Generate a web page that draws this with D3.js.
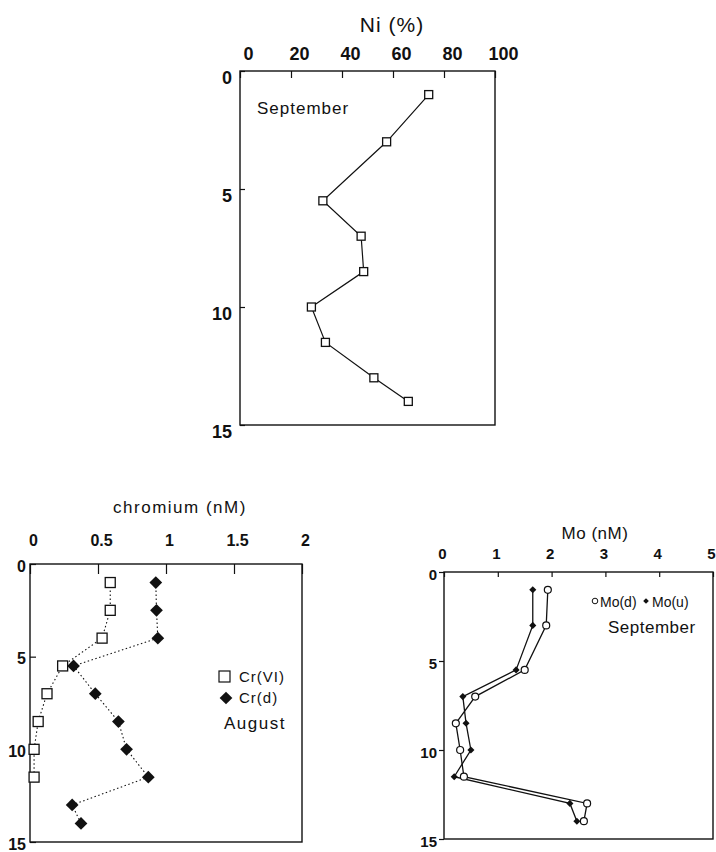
<!DOCTYPE html>
<html>
<head>
<meta charset="utf-8">
<script src="https://cdn.jsdelivr.net/npm/d3@7"></script>
<style>
body { margin: 0; background: #fff; }
text { font-family: "Liberation Sans", Arial, sans-serif; fill: #111; }
</style>
</head>
<body>
<svg id="chart" width="716" height="852"></svg>
<script>
// depth (m) of each sample, per profile
var niDepth = [1, 3, 5.5, 7, 8.5, 10, 11.5, 13, 14];
var niValues = [74, 57.5, 32.5, 47.5, 48.5, 28, 33.5, 52.5, 66];

var crVIDepth = [1, 2.5, 4, 5.5, 7, 8.5, 10, 11.5];
var crVI = [0.59, 0.59, 0.53, 0.24, 0.125, 0.06, 0.03, 0.03];
var crDDepth = [1, 2.5, 4, 5.5, 7, 8.5, 10, 11.5, 13, 14];
var crD = [0.925, 0.93, 0.94, 0.32, 0.48, 0.65, 0.71, 0.87, 0.31, 0.375];

var moDepth = [1, 3, 5.5, 7, 8.5, 10, 11.5, 13, 14];
var moD = [1.93, 1.9, 1.5, 0.58, 0.22, 0.3, 0.37, 2.66, 2.6];
var moU = [1.65, 1.65, 1.34, 0.35, 0.41, 0.5, 0.19, 2.34, 2.47];

var depthTicks = [0, 5, 10, 15];
var niTicks = [0, 20, 40, 60, 80, 100];
var crTicks = [0, 0.5, 1, 1.5, 2];
var crTickLabels = ["0", "0.5", "1", "1.5", "2"];
var moTicks = [0, 1, 2, 3, 4, 5];

var svg = d3.select("#chart");
svg.append("rect").attr("width", 716).attr("height", 852).attr("fill", "#fff");

function pairs(depth, vals) {
    return depth.map((d, i) => ({depth: d, v: vals[i]}));
}

function drawPanel(p) {
    let g = svg.append("g");
    let x = d3.scaleLinear().domain(p.xDomain).range([p.left, p.right]);
    let y = d3.scaleLinear().domain([0, 15]).range([p.top, p.bottom]);

    let xAxis = g.append("g")
        .attr("transform", `translate(0,${p.top})`)
        .call(d3.axisTop(x).tickValues(p.xTicks).tickSizeInner(-p.xTick).tickSizeOuter(0)
            .tickPadding(p.xPad).tickFormat((d, i) => p.xLabels ? p.xLabels[i] : d))
        .attr("font-size", p.tickFont)
        .attr("font-weight", "bold");
    xAxis.select(".domain").remove();
    xAxis.selectAll("line").attr("stroke", "#111").attr("stroke-width", 1.2);
    xAxis.selectAll("text").attr("dx", p.xLabelDx || 0);

    let yAxis = g.append("g")
        .attr("transform", `translate(${p.left},0)`)
        .call(d3.axisLeft(y).tickValues(depthTicks).tickSizeInner(p.yTick).tickSizeOuter(0)
            .tickPadding(p.yPad))
        .attr("font-size", p.tickFont)
        .attr("font-weight", "bold");
    yAxis.select(".domain").remove();
    yAxis.selectAll("line").attr("stroke", "#111").attr("stroke-width", 1.2);
    yAxis.selectAll("text").attr("y", p.yLabelDy || 0);

    g.append("rect")
        .attr("x", p.left).attr("y", p.top)
        .attr("width", p.right - p.left).attr("height", p.bottom - p.top)
        .attr("fill", "none").attr("stroke", "#111").attr("stroke-width", 1.4);

    g.append("text")
        .attr("x", p.titleX).attr("y", p.titleY)
        .attr("text-anchor", "middle")
        .attr("font-size", p.titleFont)
        .attr("letter-spacing", p.titleSpacing || 0)
        .text(p.title);

    return {g: g, x: x, y: y};
}

function drawLine(pan, data, dash, width) {
    let line = d3.line().x(d => pan.x(d.v)).y(d => pan.y(d.depth));
    pan.g.append("path")
        .datum(data)
        .attr("d", line)
        .attr("fill", "none")
        .attr("stroke", "#111")
        .attr("stroke-width", width)
        .attr("stroke-dasharray", dash);
}

function drawSquares(pan, data, size) {
    pan.g.selectAll(null)
        .data(data)
        .enter().append("rect")
        .attr("x", d => pan.x(d.v) - size / 2)
        .attr("y", d => pan.y(d.depth) - size / 2)
        .attr("width", size).attr("height", size)
        .attr("fill", "#fff").attr("stroke", "#111").attr("stroke-width", 1.3);
}

function drawDiamonds(pan, data, size) {
    let sym = d3.symbol(d3.symbolSquare, size * size);
    pan.g.selectAll(null)
        .data(data)
        .enter().append("path")
        .attr("d", sym)
        .attr("transform", d => `translate(${pan.x(d.v)},${pan.y(d.depth)}) rotate(45)`)
        .attr("fill", "#111");
}

function drawCircles(pan, data, r) {
    pan.g.selectAll(null)
        .data(data)
        .enter().append("circle")
        .attr("cx", d => pan.x(d.v))
        .attr("cy", d => pan.y(d.depth))
        .attr("r", r)
        .attr("fill", "#fff").attr("stroke", "#111").attr("stroke-width", 1.2);
}

function label(g, x, y, txt, size, spacing) {
    g.append("text")
        .attr("x", x).attr("y", y)
        .attr("font-size", size)
        .attr("letter-spacing", spacing || 0)
        .text(txt);
}

// Ni panel
let ni = drawPanel({
    left: 240, right: 495, top: 71, bottom: 425,
    xDomain: [0, 100], xTicks: niTicks, xTick: 7, xPad: 11, xLabelDx: 8,
    yTick: -5, yPad: 8, yLabelDy: 7,
    tickFont: 18, title: "Ni (%)", titleX: 392, titleY: 32, titleFont: 21, titleSpacing: 1
});
let niData = pairs(niDepth, niValues);
drawLine(ni, niData, null, 1.2);
drawSquares(ni, niData, 8);
label(ni.g, 257, 114, "September", 17, 1);

// chromium panel
let cr = drawPanel({
    left: 30, right: 302, top: 564, bottom: 842,
    xDomain: [0, 2], xTicks: crTicks, xLabels: crTickLabels, xTick: 10, xPad: 18, xLabelDx: 3,
    yTick: -6, yPad: 4, yLabelDy: 2,
    tickFont: 16, title: "chromium (nM)", titleX: 180, titleY: 513, titleFont: 17, titleSpacing: 1.5
});
let crVIData = pairs(crVIDepth, crVI);
let crDData = pairs(crDDepth, crD);
drawLine(cr, crVIData, "1.5,2.5", 1.1);
drawLine(cr, crDData, "1.5,2.5", 1.1);
drawSquares(cr, crVIData, 10);
drawDiamonds(cr, crDData, 9);
cr.g.append("rect").attr("x", 219).attr("y", 671).attr("width", 11).attr("height", 11)
    .attr("fill", "#fff").attr("stroke", "#111").attr("stroke-width", 1.2);
label(cr.g, 239, 682, "Cr(VI)", 15, 1);
cr.g.append("path").attr("d", d3.symbol(d3.symbolSquare, 81))
    .attr("transform", "translate(226,698) rotate(45)").attr("fill", "#111");
label(cr.g, 239, 703, "Cr(d)", 15, 1);
label(cr.g, 224, 729, "August", 17, 1.5);

// Mo panel
let mo = drawPanel({
    left: 444, right: 713, top: 572, bottom: 839,
    xDomain: [0, 5], xTicks: moTicks, xTick: 5, xPad: 13, xLabelDx: -2,
    yTick: 5, yPad: 2, yLabelDy: 3,
    tickFont: 15, title: "Mo (nM)", titleX: 595, titleY: 539, titleFont: 17, titleSpacing: 0.5
});
let moDData = pairs(moDepth, moD);
let moUData = pairs(moDepth, moU);
drawLine(mo, moDData, null, 1.3);
drawLine(mo, moUData, null, 1.3);
drawCircles(mo, moDData, 3.5);
drawDiamonds(mo, moUData, 5);
mo.g.append("circle").attr("cx", 595).attr("cy", 601).attr("r", 2.8)
    .attr("fill", "#fff").attr("stroke", "#111").attr("stroke-width", 1);
label(mo.g, 600, 607, "Mo(d)", 14, 0);
mo.g.append("path").attr("d", d3.symbol(d3.symbolSquare, 16))
    .attr("transform", "translate(646,601) rotate(45)").attr("fill", "#111");
label(mo.g, 652, 607, "Mo(u)", 14, 0);
label(mo.g, 608, 633, "September", 17, 0.5);
</script>
</body>
</html>
